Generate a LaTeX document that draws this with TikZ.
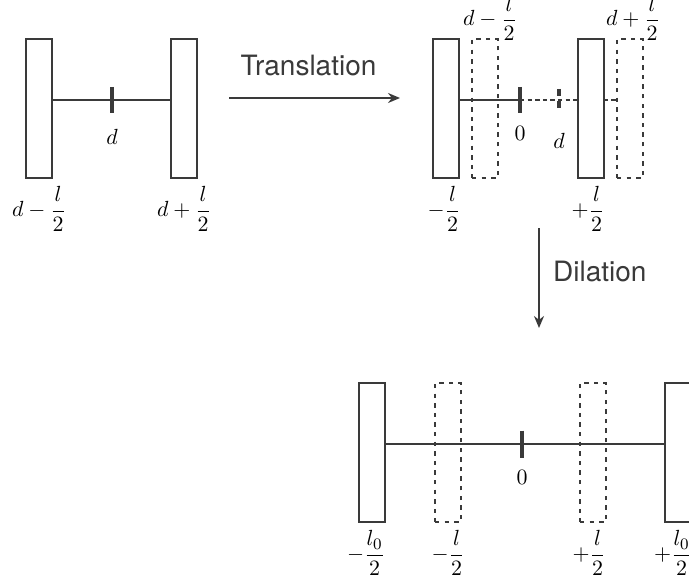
\documentclass[tikz,border=0pt,11pt]{standalone}
\usepackage{amsmath}
\usepackage{fontspec}
\newfontfamily\opfont{TeX Gyre Heros}
\usetikzlibrary{arrows.meta,backgrounds}
\definecolor{ink}{HTML}{3A3A3A}
\tikzset{
  wall/.style={draw=ink, rectangle, line width=1pt, fill=white, minimum width=13pt, minimum height=69.5pt, inner sep=0pt},
  ghostwall/.style={wall, fill=none, dash pattern=on 2.2pt off 2.6pt},
  rod/.style={draw=ink, line width=.85pt},
  ghostrod/.style={rod, dash pattern=on 2.2pt off 1.6pt},
  marktick/.style={draw=ink, line width=1.9pt},
  ghosttick/.style={marktick, dash pattern=on 3.5pt off 2.5pt},
  opname/.style={font=\opfont\fontsize{14}{16}\selectfont, text=ink},
  oparrow/.style={draw=ink, line width=.9pt, -{Stealth[length=6pt,width=5pt]}}
}

\begin{document}
\begin{tikzpicture}[x=.5pt,y=.5pt]
    \useasboundingbox (0,0) rectangle (689,579);

    % avant
    \node[wall] (l1) at (39,470.5) {};
    \node[wall] (r1) at (184,470.5) {};
    \coordinate (t1) at (112,479);
    \begin{scope}[on background layer]
      \draw[rod] (l1.east |- t1) -- (r1.west |- t1);
    \end{scope}
    \draw[marktick] ([yshift=6.5pt]t1) -- ([yshift=-6.5pt]t1) node[below=3.7pt] (d1) {$d$};
    \node[below] (l1lab) at (l1.south) {$d-\dfrac{l}{2}$};
    \node[below] (r1lab) at (r1.south) {$d+\dfrac{l}{2}$};

    % translation
    \coordinate (ta) at (229,481);
    \coordinate (tb) at (400,481);
    \draw[oparrow] (ta) -- (tb) node[midway,above=7pt,xshift=-3pt,opname] (trans) {Translation};

    % apres translation
    \node[wall] (l2) at (446,470.5) {};
    \node[ghostwall] (dl2) at (485,470.5) {};
    \node[wall] (r2) at (591,470.5) {};
    \node[ghostwall] (dr2) at (630,470.5) {};
    \coordinate (t20) at (520,479);
    \coordinate (t2d) at (559,479);
    \begin{scope}[on background layer]
      \draw[ghostrod] (t20) -- (dr2.west |- t20);
      \draw[rod] (l2.east |- t20) -- (t20);
    \end{scope}
    \draw[marktick] ([yshift=6.5pt]t20) -- ([yshift=-6.5pt]t20) node[below=2.2pt] (o2) {$0$};
    \draw[ghosttick] ([yshift=5.5pt]t2d) -- ([yshift=-5.5pt]t2d) node[below=6.7pt] (d2) {$d$};
    \node[above=-5.3pt,xshift=2.5pt] (dl2lab) at (dl2.north) {$d-\dfrac{l}{2}$};
    \node[above=-5.3pt,xshift=1.5pt] (dr2lab) at (dr2.north) {$d+\dfrac{l}{2}$};
    \node[below,xshift=-1pt] (l2lab) at (l2.south) {$-\dfrac{l}{2}$};
    \node[below,xshift=-1.5pt] (r2lab) at (r2.south) {$+\dfrac{l}{2}$};

    % dilatation
    \coordinate (da) at (539,351);
    \coordinate (db) at (539,251);
    \draw[oparrow] (da) -- (db) node[midway,right=3pt,yshift=3pt,opname] (dil) {Dilation};

    % apres dilatation
    \node[wall] (l3) at (372,126.5) {};
    \node[ghostwall] (dl3) at (448,126.5) {};
    \node[ghostwall] (dr3) at (593,126.5) {};
    \node[wall] (r3) at (678,126.5) {};
    \coordinate (t3) at (522,135);
    \begin{scope}[on background layer]
      \draw[rod] (l3.east |- t3) -- (r3.west |- t3);
    \end{scope}
    \draw[marktick] ([yshift=6.75pt]t3) -- ([yshift=-6.75pt]t3) node[below=1.7pt] (o3) {$0$};
    \node[below,xshift=-3pt] (l3lab) at (l3.south) {$-\dfrac{l_0}{2}$};
    \node[below] (dl3lab) at (dl3.south) {$-\dfrac{l}{2}$};
    \node[below,xshift=-2pt] (dr3lab) at (dr3.south) {$+\dfrac{l}{2}$};
    \node[below,xshift=-2.5pt] (r3lab) at (r3.south) {$+\dfrac{l_0}{2}$};
\end{tikzpicture}
\end{document}
